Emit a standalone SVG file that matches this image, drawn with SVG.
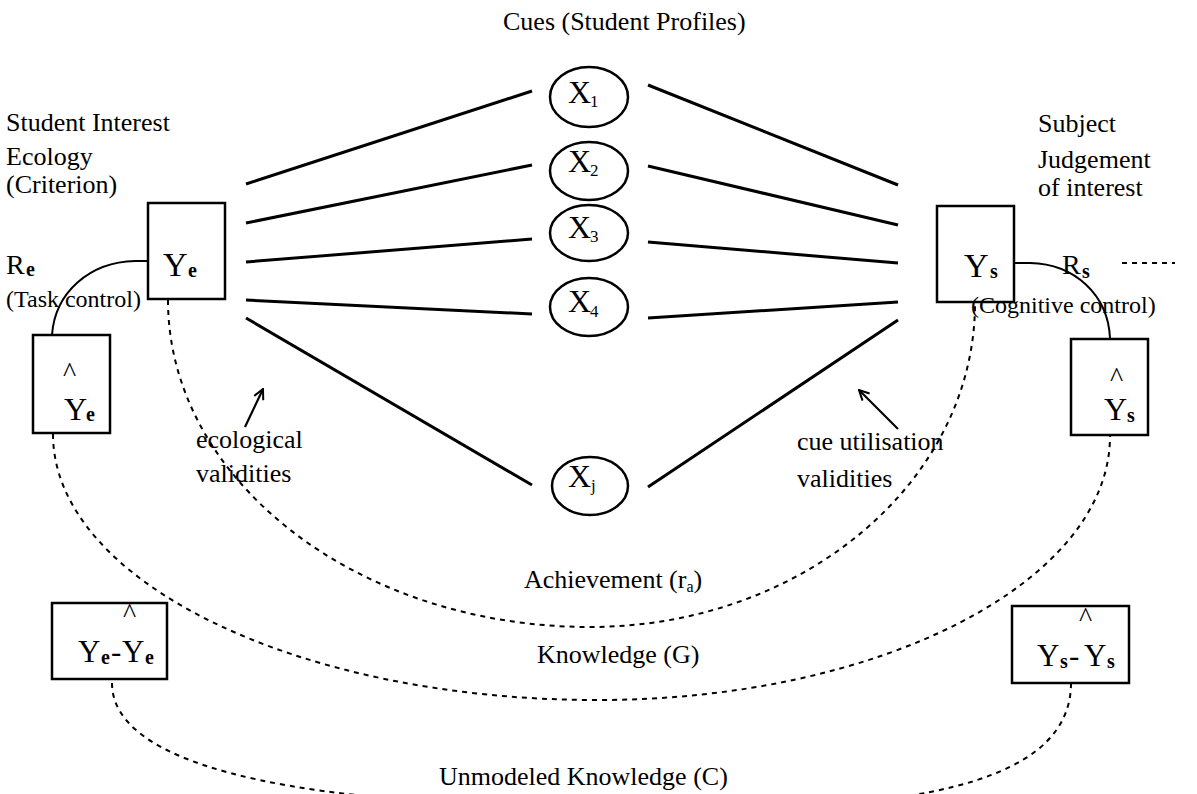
<svg xmlns="http://www.w3.org/2000/svg" width="1197" height="794" viewBox="0 0 1197 794">
<style>
text{font-family:"Liberation Serif","Times New Roman",serif;fill:#000}
.t26{font-size:26px}
.t24{font-size:24px}
.caret{font-size:28px}
.big{font-size:34px}
.sub{font-size:20px;font-weight:bold}
.xs{font-size:32px}
.xsub{font-size:17px}
.box{fill:#fff;stroke:#000;stroke-width:2.5}
.ell{fill:#fff;stroke:#000;stroke-width:2.5}
.solid{fill:none;stroke:#000;stroke-width:3}
.arc{fill:none;stroke:#000;stroke-width:2}
.dash{fill:none;stroke:#000;stroke-width:2;stroke-dasharray:5 5}
.arr{fill:none;stroke:#000;stroke-width:2.2;marker-end:url(#head)}
</style>
<defs>
<marker id="head" viewBox="0 0 12 12" refX="11" refY="6" markerWidth="12" markerHeight="12" markerUnits="userSpaceOnUse" orient="auto">
<path d="M1,1 L11,6 L1,11" fill="none" stroke="#000" stroke-width="2"/>
</marker>
</defs>
<rect width="1197" height="794" fill="#fff"/>

<g id="connectors">
<line class="solid" x1="246" y1="184" x2="532" y2="91"/>
<line class="solid" x1="246" y1="223" x2="532" y2="165"/>
<line class="solid" x1="246" y1="262" x2="532" y2="239"/>
<line class="solid" x1="246" y1="300" x2="532" y2="314"/>
<line class="solid" x1="246" y1="318" x2="532" y2="485"/>
<line class="solid" x1="648" y1="85" x2="898" y2="185"/>
<line class="solid" x1="648" y1="166" x2="898" y2="225"/>
<line class="solid" x1="648" y1="242" x2="898" y2="263"/>
<line class="solid" x1="648" y1="318" x2="898" y2="302"/>
<line class="solid" x1="648" y1="487" x2="898" y2="320"/>
<path class="arc" d="M148,261 L135,261 C90,262 55,292 52,335"/>
<path class="arc" d="M1014,263 L1030,263 C1075,264 1108,295 1110,338"/>
<line class="dash" x1="1122" y1="263" x2="1175" y2="263" stroke-dasharray="4 4"/>
<path class="dash" d="M168,300 C168,480 357,627 590,627 C802,627 975,482 975,303"/>
<path class="dash" d="M53,434 C53,581 297,700 597,700 C880,700 1110,582 1110,436"/>
<path class="dash" d="M112,683 C112,765 290,800 520,805"/>
<path class="dash" d="M1071,683 C1071,755 990,795 820,805"/>
<line class="arr" x1="245" y1="427" x2="263" y2="389"/>
<line class="arr" x1="898" y1="429" x2="859" y2="390"/>
</g>

<g id="title">
<text class="t26" x="503" y="30">Cues (Student Profiles)</text>
</g>

<g id="ecology-label">
<text class="t26" x="6" y="131">Student Interest</text>
<text class="t26" x="6" y="165">Ecology</text>
<text class="t26" x="6" y="193">(Criterion)</text>
</g>

<g id="judgement-label">
<text class="t26" x="1038" y="132">Subject</text>
<text class="t26" x="1038" y="168">Judgement</text>
<text class="t26" x="1038" y="196">of interest</text>
</g>

<g id="Ye">
<rect class="box" x="148" y="203" width="77" height="96"/>
<text class="big" x="163" y="276">Y<tspan class="sub" x="188" y="277">e</tspan></text>
</g>

<g id="Re">
<text x="6" y="274" style="font-size:28px">R<tspan class="sub" x="26" y="276">e</tspan></text>
<text class="t24" x="6" y="307">(Task control)</text>
</g>

<g id="Ye-hat">
<rect class="box" x="33" y="335" width="77" height="98"/>
<text class="caret" x="63" y="381">^</text>
<text class="xs" x="64" y="420">Y<tspan class="sub" x="86" y="421">e</tspan></text>
</g>

<g id="Ys">
<rect class="box" x="937" y="206" width="77" height="96"/>
<text class="big" x="964" y="277">Y<tspan class="sub" x="990" y="278">s</tspan></text>
</g>

<g id="Rs">
<text x="1062" y="274" style="font-size:28px">R<tspan class="sub" x="1082" y="278">s</tspan></text>
<text class="t24" x="971" y="313">(Cognitive control)</text>
</g>

<g id="Ys-hat">
<rect class="box" x="1071" y="339" width="77" height="96"/>
<text class="caret" x="1110" y="386">^</text>
<text class="xs" x="1104" y="420">Y<tspan class="sub" x="1127" y="422">s</tspan></text>
</g>

<g id="X1">
<ellipse class="ell" cx="589" cy="97" rx="39" ry="30"/>
<text class="xs" x="568" y="103">X<tspan class="xsub" x="590" y="107">1</tspan></text>
</g>
<g id="X2">
<ellipse class="ell" cx="589" cy="171" rx="39" ry="29"/>
<text class="xs" x="568" y="172">X<tspan class="xsub" x="590" y="176">2</tspan></text>
</g>
<g id="X3">
<ellipse class="ell" cx="589" cy="233" rx="39" ry="28"/>
<text class="xs" x="568" y="238">X<tspan class="xsub" x="590" y="242">3</tspan></text>
</g>
<g id="X4">
<ellipse class="ell" cx="589" cy="307" rx="39" ry="29"/>
<text class="xs" x="568" y="312">X<tspan class="xsub" x="590" y="317">4</tspan></text>
</g>
<g id="Xj">
<ellipse class="ell" cx="590" cy="486" rx="38" ry="29"/>
<text class="xs" x="568" y="487">X<tspan class="xsub" x="591" y="491">j</tspan></text>
</g>

<g id="eco-validities">
<text class="t26" x="196" y="448">ecological</text>
<text class="t26" x="196" y="482">validities</text>
</g>
<g id="cue-validities">
<text class="t26" x="797" y="450">cue utilisation</text>
<text class="t26" x="797" y="487">validities</text>
</g>

<g id="achievement">
<text class="t26" x="524" y="588">Achievement (r<tspan style="font-size:16px" dy="4">a</tspan><tspan dy="-4">)</tspan></text>
</g>
<g id="knowledge">
<text class="t26" x="537" y="663">Knowledge (G)</text>
</g>
<g id="unmodeled">
<text class="t26" x="439" y="785">Unmodeled Knowledge (C)</text>
</g>

<g id="Ye-resid">
<rect class="box" x="52" y="603" width="115" height="76"/>
<text class="caret" x="123" y="622">^</text>
<text style="font-size:31px" x="78" y="662">Y<tspan class="sub" x="101" y="664">e</tspan><tspan x="111" y="662">-</tspan><tspan x="122" y="662">Y</tspan><tspan class="sub" x="145" y="664">e</tspan></text>
</g>
<g id="Ys-resid">
<rect class="box" x="1012" y="606" width="117" height="77"/>
<text class="caret" x="1079" y="626">^</text>
<text style="font-size:31px" x="1037" y="666">Y<tspan class="sub" x="1060" y="668">s</tspan><tspan x="1069" y="666">-</tspan><tspan x="1084" y="666">Y</tspan><tspan class="sub" x="1107" y="668">s</tspan></text>
</g>
</svg>
